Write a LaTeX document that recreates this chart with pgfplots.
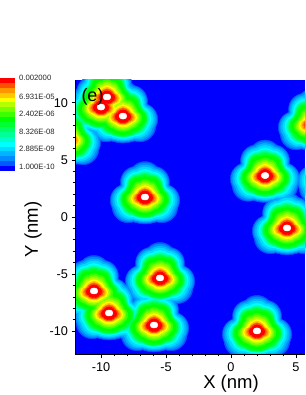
\documentclass[border=0pt]{standalone}
\usepackage{pgfplots}
\usepackage{pgfplotstable}
\usepackage{fontspec}
\setmainfont{Liberation Sans}
\pgfplotsset{compat=1.18}
\definecolor{La}{RGB}{0,0,255}
\definecolor{Lb}{RGB}{0,90,255}
\definecolor{Lc}{RGB}{0,140,255}
\definecolor{Ld}{RGB}{0,180,255}
\definecolor{Le}{RGB}{0,220,255}
\definecolor{Lf}{RGB}{0,255,255}
\definecolor{Lg}{RGB}{0,255,200}
\definecolor{Lh}{RGB}{0,255,150}
\definecolor{Li}{RGB}{0,255,100}
\definecolor{Lj}{RGB}{0,255,50}
\definecolor{Lk}{RGB}{0,255,0}
\definecolor{Ll}{RGB}{60,255,0}
\definecolor{Lm}{RGB}{120,255,0}
\definecolor{Ln}{RGB}{180,255,0}
\definecolor{Lo}{RGB}{255,255,0}
\definecolor{Lp}{RGB}{255,200,0}
\definecolor{Lq}{RGB}{255,150,0}
\definecolor{Lr}{RGB}{255,80,0}
\definecolor{Ls}{RGB}{255,0,0}
\pgfplotstableread{
x y
-9.54 10.51
-10.0 9.63
-8.31 8.84
-6.62 1.75
2.62 3.63
4.31 -0.96
-10.54 -6.48
-9.38 -8.41
-5.46 -5.34
-5.92 -9.46
2.0 -9.98
6.31 8.14
-12.69 6.83
7.77 3.42
}\peaks
\newcommand\lobe[4]{\addplot[only marks, mark=*, mark size=#3pt, color=#1, mark options={draw=none, fill=#1}, shift={(#4:#2pt)}] table[x=x,y=y] {\peaks};}
\newcommand\lvl[7]{%
\lobe{#1}{0}{#7}{0}%
\lobe{#1}{#2}{#6}{90}\lobe{#1}{#2}{#6}{210}\lobe{#1}{#2}{#6}{330}%
\lobe{#1}{#3}{#6}{60}\lobe{#1}{#3}{#6}{120}\lobe{#1}{#4}{#6}{190}%
\lobe{#1}{#5}{#6}{240}\lobe{#1}{#5}{#6}{300}\lobe{#1}{#4}{#6}{350}}
\newcommand\barstep[2]{\addplot[fill=#1, draw=none] coordinates {(0,#2) (1,#2) (1,#2+1) (0,#2+1)} -- cycle;}
\begin{document}
\begin{tikzpicture}[x=1pt,y=1pt]
\path[use as bounding box] (0,0) rectangle (305,395);
\begin{scope}
\clip (75,41) rectangle (305,315);
\fill[La] (75,41) rectangle (305,315);
\begin{axis}[
  at={(23pt,18.17pt)}, anchor=south west, scale only axis,
  width=338pt, height=319.67pt,
  xmin=-16, xmax=10, ymin=-14, ymax=14,
  hide axis, clip=false,
]
\lvl{Lb}{19.5}{17}{19}{11.5}{16}{27}
\lvl{Lc}{18.5}{16.5}{18.5}{11}{15.5}{26}
\lvl{Ld}{17.5}{16}{18}{11}{14.5}{25}
\lvl{Le}{16.5}{15.5}{17}{11}{13.5}{24}
\lvl{Lf}{15}{14.5}{16}{10.5}{12.5}{22.5}
\lvl{Lg}{14.5}{14}{15.5}{10.5}{11.5}{21.5}
\lvl{Lh}{13.5}{13.5}{14.5}{10}{11}{21}
\lvl{Li}{13}{13}{14}{10.5}{10.5}{20.5}
\lvl{Lj}{12.5}{12.5}{14}{10.5}{10}{20}
\lvl{Lk}{11}{11.5}{13}{9}{9.5}{18.5}
\lvl{Ll}{10.5}{10}{12}{8.5}{7}{15.5}
\lvl{Lm}{9}{8.5}{10.5}{7.5}{6.5}{14}
\lvl{Ln}{7.5}{7}{9.5}{6.5}{6}{12.5}
\lvl{Lo}{6}{5.5}{8.5}{5}{5.5}{11}
\lvl{Lp}{5}{4}{7.5}{4.5}{5}{9}
\lvl{Lq}{4}{3}{6.5}{4}{4.5}{8}
\lvl{Lr}{3}{2.5}{5}{3.5}{4.5}{7.5}
\lvl{Ls}{2}{2}{4}{3}{4}{6}
\lobe{white}{0.8}{3}{0}\lobe{white}{0.8}{3}{180}
\end{axis}
\end{scope}
\begin{axis}[
  at={(75pt,41pt)}, anchor=south west, scale only axis,
  width=230pt, height=274pt,
  xmin=-12, xmax=5.692, ymin=-12, ymax=12,
  axis x line=bottom, axis y line=left,
  axis line style={-, black, line width=0.9pt},
  tick align=outside,
  tick style={black, line width=0.7pt},
  major tick length=3.5pt, minor tick length=2.5pt,
  xtick={-10,-5,0,5}, xticklabels={-10,-5,0,5},
  ytick={-10,-5,0,5,10}, yticklabels={-10,-5,0,5,10},
  minor x tick num=4, minor y tick num=4,
  tick label style={font=\fontsize{12.7}{14}\selectfont},
  x tick label style={yshift=-2pt},
]
\end{axis}
\begin{axis}[
  at={(0pt,224pt)}, anchor=south west, scale only axis,
  width=15pt, height=93pt, hide axis,
  xmin=0, xmax=1, ymin=0, ymax=19,
]
\barstep{La}{0}\barstep{Lb}{1}\barstep{Lc}{2}\barstep{Ld}{3}\barstep{Le}{4}
\barstep{Lf}{5}\barstep{Lg}{6}\barstep{Lh}{7}\barstep{Li}{8}\barstep{Lj}{9}
\barstep{Lk}{10}\barstep{Ll}{11}\barstep{Lm}{12}\barstep{Ln}{13}\barstep{Lo}{14}
\barstep{Lp}{15}\barstep{Lq}{16}\barstep{Lr}{17}\barstep{Ls}{18}
\end{axis}
\foreach \yy/\tt in {317/0.002000,298.5/6.931E-05,281/2.402E-06,263/8.326E-08,246/2.885E-09,228/1.000E-10}
  \node[anchor=west, inner sep=0pt, font=\fontsize{7.7}{9}\selectfont, text=black!85] at (19,\yy) {\tt};
\node[anchor=center, inner sep=0pt, font=\fontsize{18}{20}\selectfont] at (92.5,298) {(e)};
\node[anchor=center, inner sep=0pt, font=\fontsize{18.5}{20}\selectfont] at (231,11) {X (nm)};
\node[anchor=center, inner sep=0pt, rotate=90, font=\fontsize{18.5}{20}\selectfont] at (33,165.5) {Y (nm)};
\end{tikzpicture}
\end{document}
